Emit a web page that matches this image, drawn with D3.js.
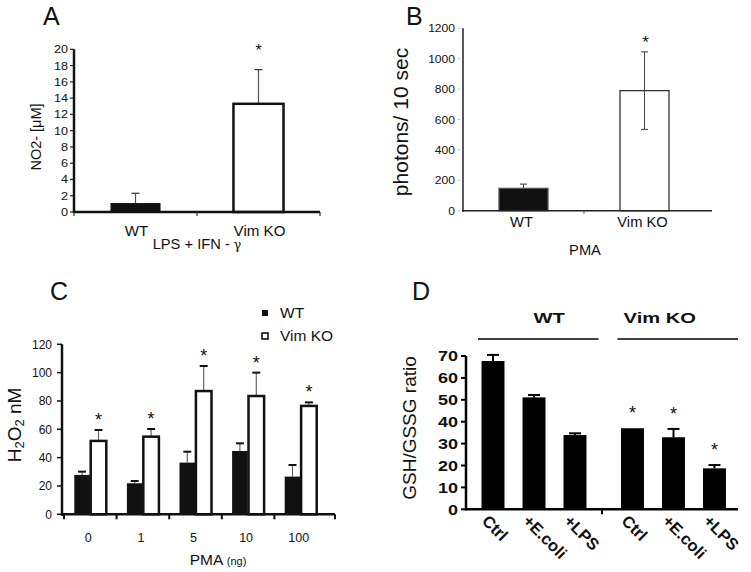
<!DOCTYPE html>
<html><head><meta charset="utf-8">
<script src="https://cdn.jsdelivr.net/npm/d3@7"></script>
<style>
body{margin:0;background:#fff}
svg{display:block}
text{font-family:"Liberation Sans",Arial,Helvetica,sans-serif;fill:#111}
</style>
</head><body>
<svg id="fig" width="751" height="572"></svg>
<script>
// ---------- Panel A data ----------
const aCats = ["WT", "Vim KO"];
const aVals = [1.1, 13.3];
const aErr = [1.2, 4.2];
const aSig = [false, true];
const aTicks = [0, 2, 4, 6, 8, 10, 12, 14, 16, 18, 20];
// ---------- Panel B data ----------
const bCats = ["WT", "Vim KO"];
const bVals = [147, 790];
const bErr = [28, 255];
const bSig = [false, true];
const bTicks = [0, 200, 400, 600, 800, 1000, 1200];
// ---------- Panel C data ----------
const cDoses = ["0", "1", "5", "10", "100"];
const cSeries = ["WT", "Vim KO"];
const cWT = [27.8, 21.9, 36.5, 44.7, 26.6];
const cWTErr = [2.3, 1.6, 7.7, 5.4, 8.2];
const cKO = [51.8, 54.8, 87.0, 83.5, 76.5];
const cKOErr = [7.7, 5.4, 17.7, 16.5, 2.5];
const cTicks = [0, 20, 40, 60, 80, 100, 120];
// ---------- Panel D data ----------
const dGroups = ["WT", "Vim KO"];
const dConds = ["Ctrl", "+E.coli", "+LPS"];
const dWT = [67.7, 51.1, 33.9];
const dWTErr = [2.8, 1.1, 0.8];
const dKO = [37.0, 32.9, 18.7];
const dKOErr = [0, 3.8, 1.5];
const dKOSig = [true, true, true];
const dTicks = [0, 10, 20, 30, 40, 50, 60, 70];

const svg = d3.select("#fig");
svg.append("rect").attr("width", 751).attr("height", 572).attr("fill", "#fff");

function txt(g, x, y, s, o = {}) {
  const t = g.append("text")
    .attr("transform", `translate(${x},${y})` + (o.rot ? ` rotate(${o.rot})` : "") + (o.sx ? ` scale(${o.sx},1)` : ""))
    .attr("text-anchor", o.anchor || "start")
    .attr("font-size", o.size || 12)
    .attr("font-weight", o.weight || "normal")
    .text(s);
  if (o.dy) t.attr("dy", o.dy);
  return t;
}
function line(g, x1, y1, x2, y2, w, c) {
  g.append("line").attr("x1", x1).attr("y1", y1).attr("x2", x2).attr("y2", y2)
    .attr("stroke", c || "#111").attr("stroke-width", w || 1);
}

// ================= PANEL A =================
{
  const g = svg.append("g");
  const x = d3.scaleBand().domain(aCats).range([74, 320]).paddingInner(0.593).paddingOuter(0.2965);
  const y = d3.scaleLinear().domain([0, 20]).range([212, 49.3]);
  txt(g, 43, 25, "A", {size: 25});
  aTicks.forEach(t => {
    line(g, 70, y(t), 74, y(t), 1.2, "#222");
    txt(g, 68, y(t), t, {anchor: "end", size: 11.5, dy: "0.35em", sx: 1.1});
  });
  aCats.forEach((c, i) => {
    const cx = x(c) + x.bandwidth() / 2;
    line(g, cx, y(aVals[i]), cx, y(aVals[i] + aErr[i]), 1.2, "#555");
    line(g, cx - 4, y(aVals[i] + aErr[i]), cx + 4, y(aVals[i] + aErr[i]), 1.2, "#333");
  });
  g.selectAll(".ba").data(aCats).join("rect")
    .attr("x", d => x(d)).attr("width", x.bandwidth())
    .attr("y", (d, i) => y(aVals[i])).attr("height", (d, i) => y(0) - y(aVals[i]))
    .attr("fill", (d, i) => i === 0 ? "#111" : "#fff")
    .attr("stroke", "#111").attr("stroke-width", (d, i) => i === 0 ? 0 : 2.5);
  line(g, 74, y(0) + 1, 74, y(20), 2.5);
  line(g, 73, y(0), 320, y(0), 2.5);
  [74, x.step() + 74, 320].forEach(v => line(g, v, y(0), v, y(0) + 4, 1.2, "#333"));
  aCats.forEach((c, i) => {
    const cx = x(c) + x.bandwidth() / 2;
    txt(g, cx + 1, 236, c, {anchor: "middle", size: 14, sx: 1.08});
    if (aSig[i]) txt(g, cx, y(aVals[i] + aErr[i]) - 14, "*", {anchor: "middle", size: 16});
  });
  const lt = txt(g, 197, 249, "LPS + IFN - ", {anchor: "middle", size: 14, sx: 1.05});
  lt.append("tspan").attr("font-family", "DejaVu Serif, serif").attr("font-size", 12).text("γ");
  txt(g, 41, 137, "NO2- [μM]", {anchor: "middle", size: 14.5, rot: -90});
}

// ================= PANEL B =================
{
  const g = svg.append("g");
  const x = d3.scaleBand().domain(bCats).range([463, 705]).paddingInner(0.595).paddingOuter(0.2975);
  const y = d3.scaleLinear().domain([0, 1200]).range([210.7, 28.3]);
  txt(g, 406, 25, "B", {size: 25});
  bTicks.forEach(t => {
    txt(g, 455, y(t), t, {anchor: "end", size: 11.5, dy: "0.35em", sx: 1.05});
    line(g, 458, y(t), 460, y(t), 1, "#bbb");
  });
  g.selectAll(".bb").data(bCats).join("rect")
    .attr("x", d => x(d)).attr("width", x.bandwidth())
    .attr("y", (d, i) => y(bVals[i])).attr("height", (d, i) => y(0) - y(bVals[i]))
    .attr("fill", (d, i) => i === 0 ? "#111" : "#fff")
    .attr("stroke", (d, i) => i === 0 ? "#555" : "#333").attr("stroke-width", 1.3);
  bCats.forEach((c, i) => {
    const cx = x(c) + x.bandwidth() / 2;
    const lo = y(bVals[i] - bErr[i]), hi = y(bVals[i] + bErr[i]);
    if (i > 0) {
      line(g, cx, lo, cx, hi, 1, "#444");
      line(g, cx - 3.5, lo, cx + 3.5, lo, 1, "#333");
    } else {
      line(g, cx, y(bVals[i]), cx, hi, 1, "#444");
    }
    line(g, cx - 3.5, hi, cx + 3.5, hi, 1, "#333");
    txt(g, cx - 2, 227, c, {anchor: "middle", size: 14, sx: 1.05});
    if (bSig[i]) txt(g, cx + 1, hi - 4, "*", {anchor: "middle", size: 17});
  });
  line(g, 463, y(0) + 1, 463, y(1200), 1.5, "#222");
  line(g, 462, y(0), 712, y(0), 1.5, "#222");
  line(g, 584, y(0), 584, y(0) + 3, 1, "#444");
  txt(g, 585, 255, "PMA", {anchor: "middle", size: 14, sx: 1.05});
  txt(g, 408, 122, "photons/ 10 sec", {anchor: "middle", size: 21, rot: -90});
}

// ================= PANEL C =================
{
  const g = svg.append("g");
  const x0 = d3.scaleBand().domain(cDoses).range([64, 327]);
  const x1 = d3.scaleBand().domain(cSeries).range([x0.bandwidth() / 2 - 16, x0.bandwidth() / 2 + 16]).paddingInner(0.05);
  const y = d3.scaleLinear().domain([0, 120]).range([514.3, 344.3]);
  txt(g, 50, 300, "C", {size: 25});
  cTicks.forEach(t => {
    line(g, 57, y(t), 62, y(t), 1.5, "#111");
    txt(g, 52, y(t), t, {anchor: "end", size: 12, dy: "0.35em"});
  });
  const series = [[cWT, cWTErr], [cKO, cKOErr]];
  cDoses.forEach((d, i) => {
    series.forEach(([v, e], s) => {
      const bx = x0(d) + x1(cSeries[s]);
      const cx = bx + x1.bandwidth() / 2;
      const top = y(v[i] + e[i]);
      line(g, cx, y(v[i]), cx, top, 1.2, "#666");
      line(g, cx - 4, top, cx + 4, top, 2, "#111");
    });
  });
  cDoses.forEach((d, i) => {
    series.forEach(([v, e], s) => {
      const bx = x0(d) + x1(cSeries[s]);
      g.append("rect").attr("x", bx).attr("width", x1.bandwidth())
        .attr("y", y(v[i])).attr("height", y(0) - y(v[i]))
        .attr("fill", s === 0 ? "#111" : "#fff")
        .attr("stroke", "#111").attr("stroke-width", s === 0 ? 0 : 2.5);
    });
    const kcx = x0(d) + x1("Vim KO") + x1.bandwidth() / 2;
    txt(g, kcx, y(cKO[i] + cKOErr[i]) - 4, "*", {anchor: "middle", size: 18});
    txt(g, x0(d) + x0.bandwidth() / 2 - 2, 542, d, {anchor: "middle", size: 12.5});
  });
  line(g, 62, y(0) + 1.5, 62, y(120), 2.5);
  line(g, 61, y(0), 335, y(0), 2.5);
  const bounds = cDoses.map(d => x0(d)).concat([335]);
  bounds.forEach(b => line(g, b, y(0), b, y(0) + 5, 2, "#111"));
  const pt = txt(g, 218, 565, "PMA ", {anchor: "middle", size: 15.5});
  pt.append("tspan").attr("font-size", 11).text("(ng)");
  const yl = g.append("text").attr("transform", "translate(21,425) rotate(-90)")
    .attr("text-anchor", "middle").attr("font-size", 19);
  yl.append("tspan").text("H");
  yl.append("tspan").attr("font-size", 13).attr("dy", 3).text("2");
  yl.append("tspan").attr("dy", -3).text("O");
  yl.append("tspan").attr("font-size", 13).attr("dy", 3).text("2");
  yl.append("tspan").attr("dy", -3).text(" nM");
  cSeries.forEach((s, i) => {
    const ly = 313 + i * 23;
    g.append("rect").attr("x", 262).attr("y", ly - 3).attr("width", 6).attr("height", 6)
      .attr("fill", i === 0 ? "#111" : "#fff").attr("stroke", "#111").attr("stroke-width", i === 0 ? 0 : 1.6);
    txt(g, 280, ly + 5, s, {size: 15.5});
  });
}

// ================= PANEL D =================
{
  const g = svg.append("g");
  const xg = d3.scaleBand().domain(dGroups).range([466, 738]).paddingInner(0.05);
  const xc = d3.scaleBand().domain(dConds).range([6.5, 129.5]).paddingInner(0.44).paddingOuter(0.22);
  const y = d3.scaleLinear().domain([0, 70]).range([509.3, 356]);
  txt(g, 412, 300, "D", {size: 25});
  dTicks.forEach(t => {
    line(g, 461, y(t), 466, y(t), 2, "#000");
    txt(g, 458, y(t), t, {anchor: "end", size: 15, weight: "bold", dy: "0.36em", sx: 1.2});
  });
  const groupsData = [[dWT, dWTErr, [false, false, false]], [dKO, dKOErr, dKOSig]];
  dGroups.forEach((grp, gi) => {
    const [v, e, sig] = groupsData[gi];
    dConds.forEach((c, i) => {
      const bx = xg(grp) + xc(c);
      const cx = bx + xc.bandwidth() / 2;
      const top = y(v[i] + e[i]);
      if (e[i] > 0) {
        line(g, cx, y(v[i]), cx, top, 2, "#000");
        line(g, cx - 6, top, cx + 6, top, 2, "#000");
      }
      g.append("rect").attr("x", bx).attr("width", xc.bandwidth())
        .attr("y", y(v[i])).attr("height", y(0) - y(v[i])).attr("fill", "#000");
      if (sig[i]) txt(g, cx, top - 9, "*", {anchor: "middle", size: 18});
      txt(g, cx - 12, 522, c, {size: 16.5, weight: "bold", rot: 45});
    });
    const gx0 = xg(grp) + 12, gx1 = xg(grp) + xg.bandwidth();
    line(g, gx0, 339, gx1, 339, 1.6, "#000");
    const mid = (gx0 + gx1) / 2 + (gi === 0 ? 11 : -18);
    txt(g, mid, 323, grp, {anchor: "middle", size: 15.5, weight: "bold", sx: 1.3});
  });
  line(g, 466, y(0) + 1, 466, y(70), 2.5, "#000");
  line(g, 465, y(0), 738, y(0), 2.5, "#000");
  line(g, 602, y(0), 602, y(0) + 5, 2, "#000");
  txt(g, 416, 428, "GSH/GSSG ratio", {anchor: "middle", size: 19, rot: -90});
}
</script>
</body></html>
